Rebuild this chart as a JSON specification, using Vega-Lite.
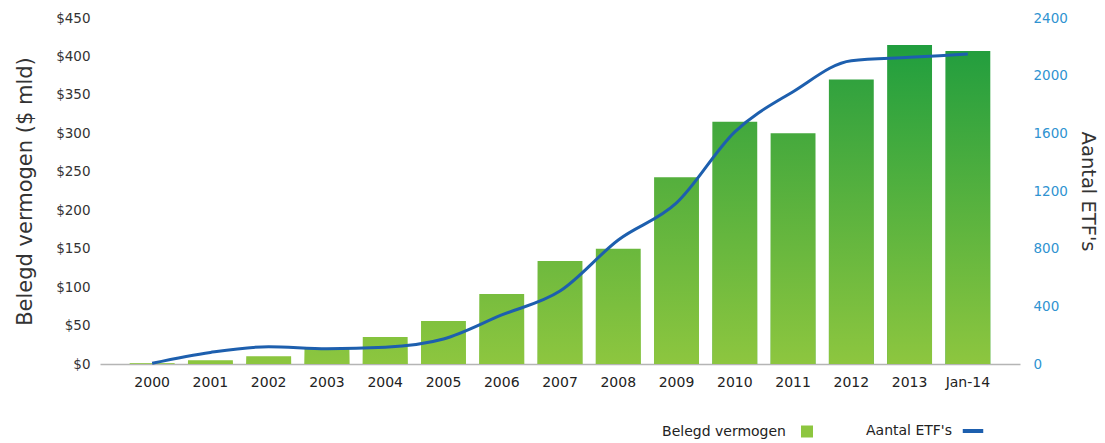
{
  "$schema": "https://vega.github.io/schema/vega-lite/v6.json",
  "width": 920,
  "height": 346,
  "autosize": {"type": "none"},
  "padding": {"left": 100, "top": 18, "right": 85, "bottom": 79},
  "background": "white",
  "config": {
    "view": {"stroke": null},
    "font": "DejaVu Sans",
    "axis": {"grid": false, "labelFont": "DejaVu Sans", "titleFont": "DejaVu Sans", "titleFontWeight": "normal"}
  },
  "data": {
    "values": [
      {"year": "2000", "assets": 1, "etfs": 5},
      {"year": "2001", "assets": 5, "etfs": 80},
      {"year": "2002", "assets": 10, "etfs": 120},
      {"year": "2003", "assets": 20, "etfs": 106},
      {"year": "2004", "assets": 35, "etfs": 116},
      {"year": "2005", "assets": 56, "etfs": 173},
      {"year": "2006", "assets": 91, "etfs": 340},
      {"year": "2007", "assets": 134, "etfs": 506},
      {"year": "2008", "assets": 150, "etfs": 860},
      {"year": "2009", "assets": 243, "etfs": 1117},
      {"year": "2010", "assets": 315, "etfs": 1610},
      {"year": "2011", "assets": 300, "etfs": 1889},
      {"year": "2012", "assets": 370, "etfs": 2104},
      {"year": "2013", "assets": 415, "etfs": 2127},
      {"year": "Jan-14", "assets": 407, "etfs": 2150}
    ]
  },
  "encoding": {
    "x": {
      "field": "year", "type": "nominal", "sort": null,
      "scale": {"paddingInner": 0.23, "paddingOuter": 0.51},
      "axis": {"title": null, "labelAngle": 0, "ticks": false, "domainColor": "#b5b5b5", "domainWidth": 1.5, "labelPadding": 11, "labelFontSize": 14, "labelColor": "#222"}
    }
  },
  "layer": [
    {
      "mark": {"type": "bar"},
      "encoding": {
        "y": {
          "field": "assets", "type": "quantitative",
          "scale": {"domain": [0, 450]},
          "axis": {"orient": "left", "values": [0, 50, 100, 150, 200, 250, 300, 350, 400, 450], "labelExpr": "'$' + datum.value", "domain": false, "ticks": false, "labelPadding": 10, "labelFontSize": 13.5, "labelColor": "#333", "title": "Belegd vermogen ($ mld)", "titleFontSize": 21, "titleColor": "#333", "titlePadding": 20}
        },
        "fill": {"field": "assets", "type": "quantitative", "scale": {"domain": [0, 450], "range": ["#8dc63f", "#0b9a3e"]}, "legend": null}
      }
    },
    {
      "mark": {"type": "bar", "fill": {"gradient": "linear", "x1": 0, "y1": 1, "x2": 0, "y2": 0, "stops": [{"offset": 0, "color": "rgba(141,198,63,1)"}, {"offset": 1, "color": "rgba(141,198,63,0)"}]}},
      "encoding": {
        "y": {"field": "assets", "type": "quantitative", "scale": {"domain": [0, 450]}, "axis": null}
      }
    },
    {
      "mark": {"type": "line", "interpolate": "monotone", "strokeWidth": 3},
      "encoding": {
        "y": {
          "field": "etfs", "type": "quantitative",
          "scale": {"domain": [0, 2400]},
          "axis": {"orient": "right", "values": [0, 400, 800, 1200, 1600, 2000, 2400], "format": "d", "domain": false, "ticks": false, "labelPadding": 13, "labelFontSize": 13.5, "labelColor": "#2f93d1", "title": "Aantal ETF's", "titleFontSize": 19.5, "titleColor": "#333", "titlePadding": 10}
        },
        "color": {
          "datum": "Aantal ETF's",
          "scale": {"domain": ["Belegd vermogen", "Aantal ETF's"], "range": ["#8dc63f", "#1d5fae"]},
          "legend": {
            "title": null, "orient": "none", "direction": "horizontal",
            "legendX": 700, "legendY": 406,
            "labelFontSize": 14, "labelFont": "DejaVu Sans", "labelColor": "#222",
            "columnPadding": 52, "symbolSize": 150,
            "encode": {
              "labels": {"update": {"align": {"value": "right"}, "x": {"value": -14}}},
              "symbols": {"update": {
                "shape": {"signal": "datum.value === 'Belegd vermogen' ? 'square' : 'stroke'"},
                "size": {"signal": "datum.value === 'Belegd vermogen' ? 144 : 420"},
                "fill": {"signal": "datum.value === 'Belegd vermogen' ? '#8dc63f' : 'transparent'"},
                "stroke": {"signal": "datum.value === 'Belegd vermogen' ? '#8dc63f' : '#2f93d1'"},
                "strokeWidth": {"signal": "datum.value === 'Belegd vermogen' ? 0 : 4"}
              }}
            }
          }
        }
      }
    }
  ],
  "resolve": {"scale": {"y": "independent"}}
}
